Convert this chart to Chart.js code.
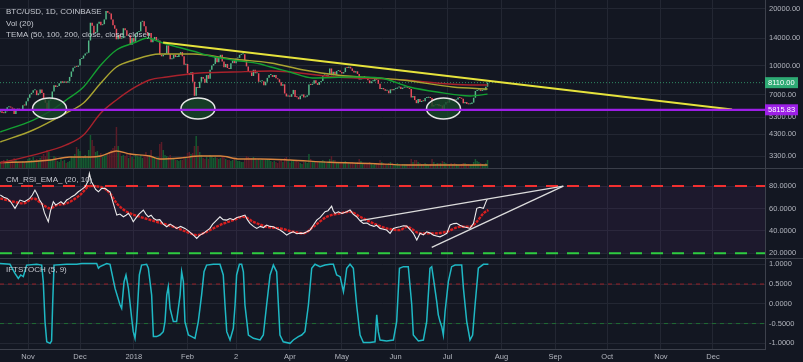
<!DOCTYPE html>
<html>
<head>
<meta charset="utf-8">
<script src="https://cdn.jsdelivr.net/npm/chart.js@4.4.1/dist/chart.umd.min.js"></script>
<style>
body { margin: 0; background: #131722; }
#wrap { position: relative; width: 803px; height: 362px; background: #131722; overflow: hidden; }
canvas { position: absolute; left: 0; }
#main { top: 0; }
#rsi { top: 169px; }
#ift { top: 259px; }
.sep { position: absolute; left: 0; width: 803px; height: 1px; background: #3a3e49; }
</style>
</head>
<body>
<div id="wrap">
    <canvas id="main" width="803" height="168"></canvas>
    <canvas id="rsi" width="803" height="89"></canvas>
    <canvas id="ift" width="803" height="103"></canvas>
    <div class="sep" style="top:168px"></div>
    <div class="sep" style="top:258px"></div>
</div>
<script>
// day index: 0 = 1 Nov 2017
var monthDays = [0, 30, 61, 92, 120, 151, 181, 212, 242, 273, 304, 334, 365, 395];
var monthLabels = ["Nov", "Dec", "2018", "Feb", "2", "Apr", "May", "Jun", "Jul", "Aug", "Sep", "Oct", "Nov", "Dec"];

// daily closes, 16 Oct 2017 -> 24 Jul 2018
var firstDay = -16;
var firstOpen = 5640;
var closes = [].concat(
    [5710, 5600, 5580, 5710, 6000, 6010, 5980, 5900, 5520, 5740, 5900, 5780, 5750, 6150, 6130, 6450],
    [6740, 7030, 7160, 7380, 7380, 6960, 7110, 7450, 7150, 6580, 6340, 5860, 6520, 6600, 7280, 7850, 7700, 7780, 8040, 8250, 8100, 8230, 8100, 8240, 8700, 9300, 9730, 9900, 9840, 10000],
    [10850, 10900, 11300, 11600, 11700, 13600, 16900, 16300, 14900, 15000, 16700, 17100, 16400, 16600, 17600, 19500, 19100, 18900, 17600, 16400, 15700, 13800, 14600, 13900, 14000, 15800, 15400, 14400, 14500, 12900, 14000],
    [13400, 14700, 15100, 15200, 17100, 17200, 16200, 15000, 14400, 14900, 13300, 13800, 14200, 13600, 13600, 11400, 11200, 11400, 11600, 12800, 11500, 10800, 10900, 11400, 11100, 11100, 11500, 11800, 11200, 10100, 10200],
    [9100, 8900, 9200, 8200, 6900, 7700, 7600, 8200, 8700, 8500, 8100, 8900, 8500, 9500, 10000, 10200, 11100, 10400, 11100, 11400, 10500, 9800, 10200, 9700, 9600, 10300, 10600, 10300],
    [10900, 11000, 11400, 11500, 11500, 10700, 9900, 9300, 9200, 8800, 9500, 9100, 9100, 8200, 8250, 8250, 7850, 8200, 8600, 8900, 8900, 8700, 8900, 8550, 8450, 8150, 7800, 7950, 7100, 6850, 6930],
    [6820, 7050, 7420, 6800, 6780, 6620, 6900, 7020, 6770, 6830, 6940, 7920, 7890, 8000, 8350, 8060, 7890, 8170, 8280, 8860, 8920, 8800, 8940, 9650, 8870, 9280, 8930, 9350, 9400, 9240],
    [9070, 9230, 9750, 9700, 9850, 9650, 9370, 9190, 9320, 9030, 8440, 8470, 8690, 8680, 8480, 8340, 8060, 8240, 8250, 8520, 8400, 8000, 7510, 7590, 7470, 7350, 7360, 7120, 7470, 7390, 7500],
    [7530, 7640, 7720, 7500, 7630, 7650, 7690, 7620, 7510, 6770, 6880, 6550, 6310, 6640, 6400, 6490, 6460, 6710, 6740, 6760, 6720, 6050, 6170, 6150, 6250, 6080, 6130, 5880, 6200, 6390],
    [6350, 6620, 6510, 6590, 6530, 6600, 6760, 6710, 6660, 6300, 6390, 6250, 6220, 6250, 6350, 6740, 7320, 7380, 7470, 7330, 7400, 7400, 7720, 8110]
);
// daily volume, thousand BTC (rough)
var volumes = [].concat(
    [6, 7, 8, 7, 9, 6, 6, 7, 10, 8, 6, 5, 5, 7, 6, 7],
    [9, 10, 8, 11, 8, 9, 8, 10, 12, 14, 12, 18, 16, 9, 8, 12, 11, 7, 6, 9, 7, 8, 5, 6, 7, 12, 11, 14, 21, 19],
    [17, 10, 11, 13, 10, 18, 33, 28, 22, 16, 17, 13, 15, 11, 12, 14, 14, 16, 18, 20, 22, 41, 22, 15, 12, 13, 12, 14, 10, 15, 11],
    [9, 14, 12, 11, 13, 10, 12, 16, 12, 13, 18, 12, 10, 9, 11, 24, 26, 18, 13, 12, 11, 13, 9, 10, 8, 8, 7, 8, 8, 12, 11],
    [15, 16, 14, 15, 22, 32, 22, 16, 13, 10, 9, 11, 9, 13, 12, 10, 11, 10, 9, 10, 11, 12, 9, 8, 8, 7, 8, 9],
    [8, 7, 7, 6, 6, 9, 12, 11, 10, 10, 11, 10, 8, 9, 8, 9, 8, 8, 9, 8, 7, 6, 7, 6, 5, 7, 8, 6, 10, 11, 7],
    [5, 7, 7, 8, 7, 6, 5, 4, 6, 6, 5, 14, 9, 6, 6, 7, 6, 6, 7, 8, 7, 5, 6, 9, 12, 8, 8, 6, 5, 6],
    [6, 5, 7, 6, 5, 5, 6, 5, 5, 6, 9, 7, 4, 5, 5, 5, 6, 5, 3, 4, 4, 5, 8, 6, 5, 4, 3, 5, 6, 5, 4],
    [4, 5, 4, 3, 4, 4, 4, 4, 4, 9, 6, 8, 8, 6, 5, 4, 4, 5, 4, 3, 4, 9, 6, 4, 5, 5, 5, 7, 6, 5],
    [4, 4, 5, 4, 5, 4, 3, 3, 4, 5, 5, 4, 4, 3, 3, 6, 9, 7, 6, 5, 4, 3, 5, 8]
);
var volMaDays = [-16, 3, 13, 24, 36, 42, 51, 59, 70, 76, 88, 99, 111, 122, 134, 151, 174, 197, 219, 265];
var volMa = [5.5, 6.5, 8, 11, 11, 12, 17, 14, 12, 9, 10, 12, 12, 9, 9, 8, 5.7, 4.5, 3, 3];

var tema50Days = [-16, 3, 13, 22, 32, 42, 51, 61, 69, 76, 86, 95, 105, 118, 134, 140, 151, 164, 187, 203, 220, 236, 255, 265];
var tema50 = [4430, 5130, 5730, 6560, 7690, 10070, 12100, 13190, 14020, 13350, 12550, 11950, 11240, 10710, 10190, 9820, 9240, 8590, 8690, 8590, 7690, 7230, 6890, 7050];
var tema100Days = [-16, 3, 22, 32, 42, 51, 61, 76, 95, 118, 140, 159, 178, 216, 245, 265];
var tema100 = [3920, 4540, 5590, 6320, 8075, 9820, 10710, 11520, 11520, 10840, 10320, 9470, 8905, 8380, 7690, 7500];
var tema200Days = [-16, 3, 22, 32, 42, 51, 61, 70, 80, 99, 118, 140, 178, 216, 255, 265];
var tema200 = [3030, 3340, 3780, 4270, 5590, 6560, 7600, 8380, 8690, 9130, 9240, 9360, 8690, 8380, 7880, 7880];

var trendDays = [77.9, 406];
var trendVals = [13270, 5836];
var lastPrice = 8110;
var supportLevel = 5815.83;
var zoneDays = [12.4, 98, 239.6];
var zonePrice = 5910;

var rsiDays = [-16, -14, -12, -10, -7.5, -6, -4.6, -2, 1, 2.5, 4, 5.5, 6.5, 8, 9.5, 11.7, 13, 14.6, 16, 17.5, 19, 20.5, 22.3, 24, 25.2, 27, 29, 31, 33, 34.5, 35.4, 36.5, 37.7, 39, 40.6, 42.5, 44.4, 46, 47.3, 49.2, 51.2, 53, 55, 56.5, 57.9, 59.5, 60.7, 62.5, 64, 66.5, 68, 69.4, 71, 72.5, 74.2, 76, 78, 80, 82, 84, 85.7, 88, 90.5, 92.5, 95.4, 97.3, 99, 101.1, 103, 104.9, 106.5, 108.8, 110.7, 112.5, 114.6, 116.5, 118.5, 120.5, 122.3, 125.1, 126.5, 128, 130, 131.9, 134, 135.8, 137.6, 139.5, 141.5, 143.5, 145.3, 147, 149.2, 151, 153, 155, 157, 158.8, 160.5, 162.7, 164.5, 166.5, 168.5, 171.3, 173, 175.1, 176, 177.1, 179, 181, 183.8, 185.7, 187.5, 189.5, 191.5, 193.4, 195.5, 197.2, 199.5, 201, 203, 205, 206.8, 208.8, 210.7, 212.5, 214.5, 216.5, 218.4, 220.5, 222.2, 224.2, 226.1, 228, 229.9, 232, 233.8, 235.5, 237.6, 239.5, 241.5, 243.4, 245.5, 247.2, 249, 251.1, 253, 254.9, 256.9, 258.8, 260.5, 262.6, 264.5, 265];
var rsiVals = [72, 70, 69, 66, 60.1, 64, 67.5, 66, 69, 72, 76.4, 72, 68, 64.5, 56, 48.1, 58, 66, 63, 64.5, 66, 64, 67.5, 69, 70.5, 72, 74.9, 77, 79.4, 84, 91.3, 84, 80.9, 77, 74.9, 78, 77.9, 76, 74.9, 64.5, 54.1, 55, 52.6, 54, 55.6, 52, 48.1, 52, 55, 58.6, 55, 52.6, 54, 51, 49.6, 50, 46, 43.7, 46, 44, 42.2, 44, 42.2, 40, 36.2, 33.3, 36, 37.8, 40, 42.2, 46, 49.6, 52.6, 50, 49.6, 51, 50, 52, 52.6, 54.1, 50, 46.7, 44, 42.2, 44, 43, 45.2, 44, 43.7, 42, 40.7, 39, 36.2, 38, 39.2, 37.5, 38, 37.8, 39, 40.7, 45, 49.6, 52, 57.1, 58, 62, 58, 55.6, 57, 55.5, 57.1, 58.6, 55, 52.6, 49, 46.7, 47, 45.2, 44, 45, 42.2, 41.5, 40.7, 37.8, 42.2, 43, 43.7, 44.5, 44.3, 41, 37.8, 31.8, 37.8, 36.5, 39.2, 38, 36.2, 35.5, 34.7, 36, 37.8, 45.2, 46.5, 46.7, 45, 43.7, 43, 42.2, 46.7, 60.1, 61, 60.1, 67.5, 68];
var emaDays = [-16, -8.4, -2.6, 3.1, 8.9, 12.7, 16.6, 22.3, 30, 35.8, 41.5, 47.3, 51.2, 56.9, 64.6, 74.2, 83.8, 91.5, 97.3, 103, 110.7, 118.4, 124.2, 129.9, 137.6, 145.3, 153, 158.8, 164.6, 172.3, 180, 185.7, 191.5, 199.2, 206.9, 214.5, 218.4, 226.1, 233.8, 241.5, 249.1, 254.9, 258.8, 262.6, 265.5];
var emaVals = [69, 66, 64.5, 69, 63, 60.1, 63, 64.5, 72, 80, 79.4, 73.5, 64.5, 57.1, 52.6, 48.1, 43.7, 39.2, 36.2, 39.2, 45.2, 49.6, 52.6, 48.1, 43.7, 42.2, 39.2, 37.8, 43.7, 52.6, 55.6, 57.1, 52.6, 46.7, 42.2, 40.7, 43.7, 37.8, 37.8, 39.2, 43.7, 43.7, 48.1, 55.6, 58.6];
var rsiUpperDays = [191.5, 308.7];
var rsiUpperVals = [49.2, 80];
var rsiLowerDays = [232.8, 308.7];
var rsiLowerVals = [25.3, 80];

var iftDays = [-16.2, -10.4, -7.5, -5.6, -4.2, -2.7, -0.8, 5, 7.9, 8.8, 9.8, 10.8, 12.7, 13.6, 14.2, 15, 22.3, 28.1, 31, 39.6, 40.6, 41.5, 45.4, 47.3, 50.2, 53.1, 54, 55.4, 56.5, 57.9, 59.8, 60.7, 61.7, 62.7, 64.2, 65.5, 68.4, 69.4, 71.3, 72.3, 74.2, 76.1, 78, 79, 80, 80.9, 81.9, 83.8, 85.7, 87.7, 88.6, 89.6, 90.5, 92.5, 94.4, 96.3, 98.2, 100.1, 101.5, 103, 106.9, 110.7, 112.6, 113.6, 114.6, 116.5, 118.4, 119.4, 120.3, 121.9, 123.2, 124.2, 125.1, 127.1, 130, 133.8, 135.7, 137.6, 139.6, 141.5, 143.4, 144.4, 145.3, 147.2, 151.1, 153, 155.9, 157.8, 159.7, 161.7, 163.6, 165.5, 168.4, 171.3, 174.2, 176.1, 178, 180, 181.9, 182.8, 183.8, 185.7, 187.6, 189.5, 191.5, 193.4, 197.2, 200.1, 201.1, 202, 203, 206.8, 210.7, 212.6, 214.2, 216.5, 219.3, 221.3, 222.2, 225.1, 228, 229.9, 231.8, 232.8, 233.8, 235.7, 236.6, 237.6, 238.6, 239.5, 240.5, 242.4, 244.3, 246.3, 250.1, 251.1, 253, 254.9, 256.4, 257.8, 259.7, 262.6, 265.5];
var iftVals = [1.02, 1, 0.77, 0.645, 0.73, 0.69, 0.98, 1, 0.98, 0.56, -0.45, -0.96, -1, -0.94, -0.03, 0.98, 1, 1, 1.02, 1.02, 0.9, 0.94, 1.02, 1, 0.39, -0.03, -0.115, 0.56, 0.73, 0.39, -0.37, -0.705, -0.874, -0.45, 0.73, 0.98, 1, 0.9, 0.22, -0.83, -0.83, -0.79, -0.705, -0.45, 0.22, 0.434, -0.115, -0.45, -0.45, 0.22, 0.81, 0.56, -0.45, -0.79, -0.83, -0.874, -0.45, 0.22, 0.81, 0.98, 1, 1, 0.73, -0.03, -0.705, -0.916, -0.62, -0.03, 0.73, 1, 1, 0.81, -0.03, -0.79, -0.874, -0.916, -0.79, -0.03, 0.73, 0.98, 0.81, -0.03, -0.79, -0.96, -1, -0.916, -0.83, -0.79, -0.705, -0.03, 0.9, 1, 0.94, 0.98, 1, 1, 0.73, 0.687, 0.307, 0.56, 0.9, 1, 0.9, -0.03, -0.79, -0.98, -0.98, -0.96, -0.28, -0.705, -0.916, -0.94, -0.916, -0.45, 0.9, 0.94, 0.94, -0.03, -0.79, -0.94, -0.916, -0.45, 0.9, 0.94, 0.645, 0.054, -0.28, -0.45, -0.58, -0.79, -0.2, 0.56, 0.94, 0.98, 0.98, 0.39, -0.45, -0.916, -0.79, -0.03, 0.9, 1, 1];

var X_MIN = -16.15, X_MAX = 425;
var FONT = '"Liberation Sans", Arial, sans-serif';
var TXT = "#b2b5be";
var GRID = "#232733";
var AXIS = "#3d414c";
var UP = "#53b987", DOWN = "#eb4d5c";

function xAxis(showLabels) {
    return {
        type: "linear", min: X_MIN, max: X_MAX, bounds: "data", offset: false,
        afterBuildTicks: function (s) {
            s.ticks = monthDays.map(function (d) { return { value: d }; });
        },
        afterFit: function (s) {
            s.height = showLabels ? 13 : 0;
            s.paddingLeft = 0;
            s.paddingRight = 0;
        },
        grid: { color: GRID, drawTicks: false, offset: false },
        border: { display: showLabels, color: AXIS },
        ticks: {
            display: showLabels, color: TXT, font: { size: 7.5, family: FONT }, padding: 3,
            maxRotation: 0, autoSkip: false,
            callback: function (v) { return monthLabels[monthDays.indexOf(v)]; }
        }
    };
}

function yAxis(type, min, max, vals, dec) {
    return {
        type: type, position: "right", min: min, max: max, bounds: "data",
        afterBuildTicks: function (s) {
            s.ticks = vals.map(function (v) { return { value: v }; });
        },
        afterFit: function (s) {
            s.width = 38;
            s.paddingTop = 0;
            s.paddingBottom = 0;
        },
        grid: { color: GRID, drawTicks: false },
        border: { color: AXIS },
        ticks: {
            color: TXT, font: { size: 7.5, family: FONT }, padding: 4, autoSkip: false,
            callback: function (v) { return Number(v).toFixed(dec); }
        }
    };
}

function line(days, vals, color, width, axis, order, extra) {
    var ds = {
        type: "line",
        data: days.map(function (d, i) { return { x: d, y: vals[i] }; }),
        borderColor: color, borderWidth: width, pointRadius: 0,
        yAxisID: axis, order: order, tension: 0
    };
    return Object.assign(ds, extra || {});
}

function hLine(chart, value, color, width, dash) {
    var c = chart.ctx, a = chart.chartArea;
    var py = chart.scales.y.getPixelForValue(value);
    c.save();
    c.strokeStyle = color;
    c.lineWidth = width;
    c.setLineDash(dash);
    c.beginPath();
    c.moveTo(a.left, py);
    c.lineTo(a.right, py);
    c.stroke();
    c.restore();
}

function titles(chart, lines, top) {
    var c = chart.ctx;
    c.save();
    c.fillStyle = "#c5c8d0";
    c.font = "8px " + FONT;
    c.textBaseline = "middle";
    lines.forEach(function (t, i) { c.fillText(t, 6, top + i * 11.3); });
    c.restore();
}

function tag(chart, value, color) {
    var c = chart.ctx;
    var py = chart.scales.y.getPixelForValue(value);
    var left = chart.chartArea.right;
    c.save();
    c.fillStyle = color;
    c.fillRect(left, py - 5.5, 33, 11);
    c.fillStyle = "#ffffff";
    c.font = "7.5px " + FONT;
    c.textBaseline = "middle";
    c.fillText(value.toFixed(2), left + 3, py + 0.5);
    c.restore();
}

function isUp(i) {
    return closes[i] >= (i === 0 ? firstOpen : closes[i - 1]);
}

var candleData = closes.map(function (c, i) {
    return { x: firstDay + i, y: [i === 0 ? firstOpen : closes[i - 1], c] };
});
var volData = volumes.map(function (v, i) {
    return { x: firstDay + i, y: v };
});

var baseOptions = {
    responsive: false, animation: false, events: [],
    layout: { padding: 0 },
    plugins: { legend: { display: false }, tooltip: { enabled: false } }
};

// ---------- price panel
var mainOverlay = {
    id: "mainOverlay",
    beforeDatasetsDraw: function (chart) {
        hLine(chart, lastPrice, "#2f8a63", 1, [1, 2]);
    },
    afterDatasetsDraw: function (chart) {
        var c = chart.ctx, a = chart.chartArea, x = chart.scales.x, y = chart.scales.y;
        c.save();
        c.beginPath();
        c.rect(a.left, a.top, a.right - a.left, a.bottom - a.top);
        c.clip();
        zoneDays.forEach(function (d) {
            c.beginPath();
            c.ellipse(x.getPixelForValue(d), y.getPixelForValue(zonePrice), 17, 10.5, 0, 0, Math.PI * 2);
            c.fillStyle = "rgba(22,70,40,0.8)";
            c.fill();
            c.strokeStyle = "#e6e6e6";
            c.lineWidth = 1.5;
            c.stroke();
        });
        c.restore();
        hLine(chart, supportLevel, "#9c1fe6", 2.2, []);
    },
    afterDraw: function (chart) {
        tag(chart, lastPrice, "#2eaa74");
        tag(chart, supportLevel, "#9c1fe6");
        titles(chart, ["BTC/USD, 1D, COINBASE", "Vol (20)", "TEMA (50, 100, 200, close, close, close)"], 12);
    }
};

new Chart(document.getElementById("main"), {
    type: "bar",
    data: {
        datasets: [
            line(trendDays, trendVals, "#e6e33c", 2, "y", 0),
            line(tema50Days, tema50, "#14a032", 1.4, "y", 1, { cubicInterpolationMode: "monotone" }),
            line(tema100Days, tema100, "#a9a431", 1.4, "y", 1, { cubicInterpolationMode: "monotone" }),
            line(tema200Days, tema200, "#a8222c", 1.4, "y", 1, { cubicInterpolationMode: "monotone" }),
            line(volMaDays, volMa, "#d9853f", 1.4, "v", 2, { cubicInterpolationMode: "monotone" }),
            {
                type: "bar", label: "BTC/USD", data: candleData, yAxisID: "y", order: 3,
                grouped: false, barPercentage: 1, categoryPercentage: 0.85, minBarLength: 1,
                backgroundColor: function (ctx) { return isUp(ctx.dataIndex) ? UP : DOWN; }
            },
            {
                type: "bar", label: "Vol", data: volData, yAxisID: "v", order: 5,
                grouped: false, barPercentage: 1, categoryPercentage: 0.85,
                backgroundColor: function (ctx) { return isUp(ctx.dataIndex) ? "#155a30" : "#5a1c28"; }
            }
        ]
    },
    options: Object.assign({}, baseOptions, {
        scales: {
            x: xAxis(false),
            y: yAxis("logarithmic", 2850, 22330, [3300, 4300, 5300, 7000, 10000, 14000, 20000], 2),
            v: { display: false, min: 0, max: 168, bounds: "data" }
        }
    }),
    plugins: [mainOverlay]
});

// ---------- RSI panel
var rsiOverlay = {
    id: "rsiOverlay",
    beforeDatasetsDraw: function (chart) {
        var c = chart.ctx, a = chart.chartArea, y = chart.scales.y;
        var y80 = y.getPixelForValue(80), y20 = y.getPixelForValue(20);
        c.save();
        c.fillStyle = "rgba(110,40,130,0.12)";
        c.fillRect(a.left, y80, a.right - a.left, y20 - y80);
        c.restore();
        hLine(chart, 80, "#f23030", 2, [12, 9]);
        hLine(chart, 20, "#2ecc40", 2, [12, 9]);
    },
    afterDraw: function (chart) {
        titles(chart, ["CM_RSI_EMA_ (20, 10)"], 11);
    }
};

new Chart(document.getElementById("rsi"), {
    type: "line",
    data: {
        datasets: [
            line(rsiUpperDays, rsiUpperVals, "#dcdcdc", 1.3, "y", 0),
            line(rsiLowerDays, rsiLowerVals, "#dcdcdc", 1.3, "y", 0),
            line(rsiDays, rsiVals, "#ececec", 1.1, "y", 1),
            line(emaDays, emaVals, "#d71f1f", 2.4, "y", 2, { borderDash: [3, 1], cubicInterpolationMode: "monotone" })
        ]
    },
    options: Object.assign({}, baseOptions, {
        scales: {
            x: xAxis(false),
            y: yAxis("linear", 15.8, 95.2, [20, 40, 60, 80], 4)
        }
    }),
    plugins: [rsiOverlay]
});

// ---------- IFT stoch panel
var iftOverlay = {
    id: "iftOverlay",
    beforeDatasetsDraw: function (chart) {
        hLine(chart, 0.5, "#9b2228", 1, [4, 4]);
        hLine(chart, -0.5, "#1f6b33", 1, [4, 4]);
    },
    afterDraw: function (chart) {
        titles(chart, ["IFTSTOCH (5, 9)"], 11);
    }
};

new Chart(document.getElementById("ift"), {
    type: "line",
    data: {
        datasets: [
            line(iftDays, iftVals, "#1fb8c4", 1.5, "y", 0)
        ]
    },
    options: Object.assign({}, baseOptions, {
        scales: {
            x: xAxis(true),
            y: yAxis("linear", -1.144, 1.134, [-1, -0.5, 0, 0.5, 1], 4)
        }
    }),
    plugins: [iftOverlay]
});
</script>
</body>
</html>
